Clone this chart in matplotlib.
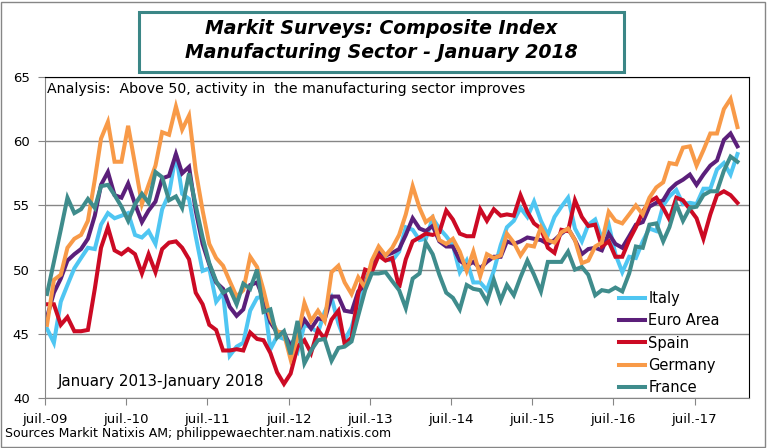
import matplotlib
matplotlib.use("Agg")
import matplotlib.pyplot as plt
from matplotlib.patches import Rectangle
import pandas as pd

# ---------------- data : monthly PMI, Jul 2009 -> Jan 2018 ----------------
dates = pd.date_range("2009-07-01", "2018-01-01", freq="MS") + pd.Timedelta(days=9)

italy = [45.4, 44.3, 47.5, 48.8, 50.1, 50.9,
         51.7, 51.6, 53.5, 54.4, 54.0, 54.2, 54.4, 52.7, 52.5, 53.0, 52.0, 54.7,
         55.9, 59.0, 55.9, 55.5, 52.6, 49.9, 50.1, 47.5, 48.2, 43.3, 44.0, 44.3,
         46.8, 47.8, 47.9, 43.8, 44.8, 44.6, 44.3, 43.6, 45.7, 45.5, 45.1, 46.7,
         47.8, 45.8, 44.5, 45.5, 47.3, 49.1, 50.4, 51.3, 50.8, 50.7, 51.4, 53.3,
         53.1, 52.3, 52.4, 54.0, 53.2, 52.6, 51.9, 49.8, 50.7, 49.0, 49.0, 48.4,
         49.9, 51.9, 53.3, 53.8, 54.8, 54.1, 55.3, 53.8, 52.7, 54.1, 54.9, 55.6,
         53.2, 52.2, 53.5, 53.9, 52.4, 53.5, 51.2, 49.8, 51.0, 50.9, 52.2, 53.2,
         53.0, 55.0, 55.7, 56.2, 55.1, 55.2, 55.1, 56.3, 56.3, 57.8, 58.3, 57.4,
         59.0]

euro_area = [46.3, 48.2, 49.3, 50.7, 51.2, 51.6,
             52.4, 54.2, 56.6, 57.6, 55.8, 55.6, 56.7, 55.1, 53.7, 54.6, 55.3, 57.1,
             57.3, 59.0, 57.5, 58.0, 54.6, 52.0, 50.4, 49.0, 48.5, 47.1, 46.4, 46.9,
             48.8, 49.0, 47.7, 45.9, 45.1, 45.1, 44.0, 45.1, 46.1, 45.4, 46.2, 46.1,
             47.9, 47.9, 46.8, 46.7, 48.3, 48.8, 50.3, 51.4, 51.1, 51.3, 51.6, 52.7,
             54.0, 53.2, 53.0, 53.4, 52.2, 51.8, 51.8, 50.7, 50.3, 50.6, 50.1, 50.6,
             51.0, 51.0, 52.2, 52.0, 52.2, 52.5, 52.4, 52.3, 52.0, 52.3, 52.8, 53.2,
             52.3, 51.2, 51.6, 51.7, 51.5, 52.8, 52.0, 51.7, 52.6, 53.5, 53.7, 54.9,
             55.2, 55.4, 56.2, 56.7, 57.0, 57.4, 56.6, 57.4, 58.1, 58.5, 60.1, 60.6,
             59.6]

spain = [47.3, 47.3, 45.7, 46.3, 45.2, 45.2,
         45.3, 48.5, 51.7, 53.3, 51.5, 51.2, 51.6, 51.2, 49.7, 51.2, 49.8, 51.6,
         52.1, 52.2, 51.7, 50.8, 48.2, 47.3, 45.7, 45.3, 43.7, 43.7, 43.8, 43.7,
         45.1, 44.6, 44.5, 43.5, 42.0, 41.1, 41.9, 44.0, 44.5, 43.5, 45.3, 44.6,
         46.1, 46.8, 44.2, 44.7, 48.1, 50.0, 49.8, 51.1, 50.7, 50.9, 48.6, 50.8,
         52.2, 52.5, 52.8, 52.7, 52.9, 54.6, 53.9, 52.8, 52.6, 52.6, 54.7, 53.8,
         54.7, 54.2, 54.3, 54.2, 55.8, 54.5, 53.6, 53.2, 51.7, 51.3, 53.1, 53.0,
         55.4, 54.1, 53.4, 53.5, 51.8, 52.2, 51.0, 51.0, 52.3, 53.3, 54.5, 55.3,
         55.6, 54.8, 53.9, 55.6, 55.4, 54.7, 54.0, 52.4, 54.3, 55.8, 56.1, 55.8,
         55.2]

germany = [45.7, 49.2, 49.6, 51.7, 52.4, 52.7,
           53.8, 57.0, 60.2, 61.5, 58.4, 58.4, 61.2, 58.2, 55.1, 56.6, 58.1, 60.7,
           60.5, 62.7, 60.9, 62.0, 57.7, 54.6, 52.0, 50.9, 50.3, 49.1, 47.9, 48.4,
           51.0, 50.2, 48.4, 46.2, 45.2, 45.0, 43.0, 44.7, 47.4, 46.0, 46.8, 46.0,
           49.8, 50.3, 49.0, 48.1, 49.4, 48.6, 50.7, 51.8, 51.1, 51.7, 52.7, 54.3,
           56.5, 54.8, 53.7, 54.1, 52.3, 52.0, 52.4, 51.4, 49.9, 51.4, 49.5, 51.2,
           50.9, 51.1, 52.8, 52.1, 51.1, 51.9, 51.8, 53.3, 52.3, 52.1, 52.9, 53.2,
           52.3, 50.5, 50.7, 51.8, 52.1, 54.5, 53.8, 53.6, 54.3, 55.0, 54.3, 55.6,
           56.4, 56.8, 58.3, 58.2, 59.5, 59.6, 58.1, 59.3, 60.6, 60.6, 62.5, 63.3,
           61.1]

france = [48.1, 50.6, 53.1, 55.6, 54.4, 54.7,
          55.5, 54.8, 56.5, 56.6, 55.8, 54.9, 53.8, 55.1, 55.9, 55.2, 57.6, 57.2,
          55.4, 55.7, 54.8, 57.5, 55.0, 52.5, 50.5, 49.1, 48.2, 48.5, 47.3, 48.9,
          48.5, 50.0, 46.7, 46.9, 44.7, 45.2, 43.4, 46.0, 42.7, 43.7, 44.5, 44.6,
          42.9, 43.9, 44.0, 44.4, 46.4, 48.4, 49.7, 49.7, 49.8, 49.1, 48.4, 47.0,
          49.3, 49.7, 52.1, 51.2, 49.6, 48.2, 47.8, 46.9, 48.8, 48.5, 48.4, 47.5,
          49.2, 47.6, 48.8, 48.0, 49.4, 50.7, 49.6, 48.3, 50.6, 50.6, 50.6, 51.4,
          50.0, 50.2, 49.6, 48.0, 48.4, 48.3, 48.6, 48.3, 49.7, 51.8, 51.7, 53.5,
          53.6, 52.2, 53.3, 55.1, 53.8, 54.8, 54.9, 55.8, 56.1, 56.1, 57.7, 58.8,
          58.4]

series = [("Italy", italy, "#4FC6F2"),
          ("Euro Area", euro_area, "#5B1F7A"),
          ("Spain", spain, "#CC0A24"),
          ("Germany", germany, "#F89A48"),
          ("France", france, "#3F8C8C")]

tick_dates = pd.date_range("2009-07-01", "2017-07-01", freq="12MS")
tick_labels = ["juil.-%02d" % (d.year % 100) for d in tick_dates]

# ---------------- figure ----------------
W, H = 767, 448
fig = plt.figure(figsize=(W / 100, H / 100), dpi=100)
ax = fig.add_axes([45 / W, 1 - 398 / H, (749 - 45) / W, (398 - 77) / H])

for name, vals, col in series:
    ax.plot(dates, vals, color=col, lw=2.9, label=name, solid_joinstyle="miter")

ax.set_ylim(40, 65)
ax.set_xlim(pd.Timestamp("2009-07-01"), pd.Timestamp("2018-03-03"))
ax.set_yticks([40, 45, 50, 55, 60, 65])
ax.set_xticks(tick_dates)
ax.set_xticklabels(tick_labels)
ax.yaxis.grid(True, color="#868686", lw=1)
ax.set_axisbelow(True)

for s in ["left", "bottom"]:
    ax.spines[s].set_color("#868686")
for s in ["top", "right"]:
    ax.spines[s].set_color("black")
ax.tick_params(axis="both", direction="out", length=5, color="#868686",
               labelsize=9.5, pad=6)

ax.text(0.003, 0.985, "Analysis:  Above 50, activity in  the manufacturing sector improves",
        transform=ax.transAxes, ha="left", va="top", fontsize=10.2)
ax.text(0.018, 0.05, "January 2013-January 2018", transform=ax.transAxes,
        ha="left", va="center", fontsize=10.8)

leg = ax.legend(loc="upper left", bbox_to_anchor=(619 / W, 1 - 291 / H),
                bbox_transform=fig.transFigure, frameon=False, fontsize=10.5,
                handlelength=1.8, handletextpad=0.2, labelspacing=0.5,
                borderpad=0, borderaxespad=0)

# title box
fig.patches.append(Rectangle((139 / W, 1 - 72 / H), (624 - 139) / W, 60 / H,
                             transform=fig.transFigure, fill=True, facecolor="white",
                             edgecolor="#3B8686", lw=2.2, zorder=5))
fig.text(381 / W, 1 - 28 / H, "Markit Surveys: Composite Index", ha="center",
         va="center", fontsize=13.6, fontweight="bold", style="italic", zorder=6)
fig.text(381 / W, 1 - 52 / H, "Manufacturing Sector - January 2018", ha="center",
         va="center", fontsize=13.6, fontweight="bold", style="italic", zorder=6)

fig.text(5 / W, 1 - 433 / H, "Sources Markit Natixis AM; philippewaechter.nam.natixis.com",
         ha="left", va="center", fontsize=9)

# outer border
fig.patches.append(Rectangle((1 / W, 1 / H), (W - 3) / W, (H - 3) / H,
                             transform=fig.transFigure, fill=False,
                             edgecolor="#868686", lw=1))

fig.savefig("out.png", dpi=100)
